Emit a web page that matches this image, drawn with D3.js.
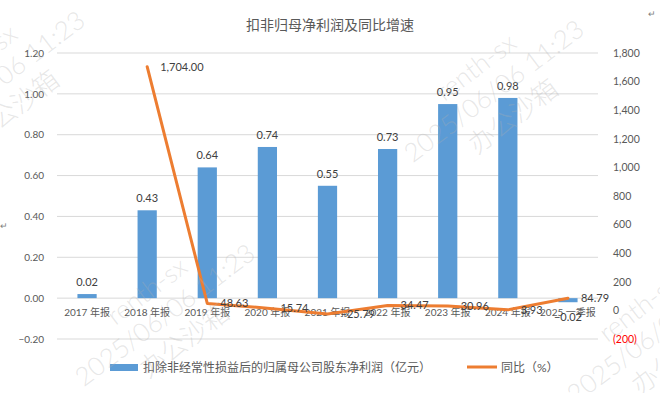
<!DOCTYPE html>
<html>
<head>
    <meta charset="UTF-8">
    <title>扣非归母净利润及同比增速</title>
    <style>
        body { margin: 0; background: #fff; }
        text { font-family: Lato, "Noto Sans CJK SC", sans-serif; }
    </style>
</head>
<body>
    <div id="app"></div>

    <script src="https://d3js.org/d3.v7.min.js"></script>
    <script>
        let categories = ['2017 年报', '2018 年报', '2019 年报', '2020 年报', '2021 年报',
            '2022 年报', '2023 年报', '2024 年报', '2025 一季报']
        let profit = [0.02, 0.43, 0.64, 0.74, 0.55, 0.73, 0.95, 0.98, -0.02]
        let growth = [null, 1704.00, 48.63, 15.74, -25.79, 34.47, 30.96, 3.93, 84.79]
        let leftTicks = [-0.2, 0, 0.2, 0.4, 0.6, 0.8, 1.0, 1.2]
        let rightTicks = [-200, 0, 200, 400, 600, 800, 1000, 1200, 1400, 1600, 1800]

        let W = 660
        let H = 393
        let plotL = 57, plotR = 598, plotT = 53, plotB = 339
        let blue = '#5b9bd5'
        let orange = '#ed7d31'

        let svg = d3.select('#app').append('svg')
        .attr('width', W)
        .attr('height', H)

        let x = d3.scaleBand()
        .domain(categories)
        .range([plotL, plotR])
        .paddingInner(0.68)
        .paddingOuter(0.34)

        let yL = d3.scaleLinear().domain([-0.2, 1.2]).range([plotB, plotT])
        let yR = d3.scaleLinear().domain([-200, 1800]).range([plotB, plotT])
        let cx = c => x(c) + x.bandwidth() / 2

        // title
        svg.append('text')
        .attr('x', 330).attr('y', 30)
        .attr('text-anchor', 'middle')
        .attr('font-size', 14)
        .attr('fill', '#595959')
        .text('扣非归母净利润及同比增速')

        // gridlines
        svg.append('g').selectAll('line')
        .data(leftTicks).enter()
        .append('line')
        .attr('x1', plotL).attr('x2', plotR)
        .attr('y1', d => yL(d)).attr('y2', d => yL(d))
        .attr('stroke', '#d9d9d9')
        .attr('stroke-width', 1)

        // left axis
        let axL = svg.append('g')
        .attr('transform', 'translate(' + (plotL - 10) + ',0)')
        .call(d3.axisLeft(yL).tickValues(leftTicks).tickFormat(d3.format('.2f')).tickSize(0))
        axL.select('.domain').remove()
        axL.selectAll('text').attr('font-size', 10).attr('fill', '#595959')
        .attr('font-family', 'Lato, "Noto Sans CJK SC", sans-serif')

        // right axis
        let axR = svg.append('g')
        .attr('transform', 'translate(' + (plotR + 12) + ',0)')
        .call(d3.axisRight(yR).tickValues(rightTicks)
            .tickFormat(d => d < 0 ? '(' + d3.format(',')(-d) + ')' : d3.format(',')(d))
            .tickSize(0))
        axR.select('.domain').remove()
        axR.selectAll('text').attr('font-size', 10.5)
        .attr('fill', d => d < 0 ? '#ff0000' : '#595959')
        .attr('font-family', 'Lato, "Noto Sans CJK SC", sans-serif')

        // bars
        svg.append('g').selectAll('rect')
        .data(profit).enter()
        .append('rect')
        .attr('x', (d, i) => x(categories[i]))
        .attr('width', x.bandwidth())
        .attr('y', d => Math.min(yL(d), yL(0)))
        .attr('height', d => Math.abs(yL(d) - yL(0)))
        .attr('fill', blue)

        // x labels
        svg.append('g').selectAll('text')
        .data(categories).enter()
        .append('text')
        .attr('x', d => cx(d))
        .attr('y', 316)
        .attr('text-anchor', 'middle')
        .attr('font-size', 10)
        .attr('fill', '#595959')
        .text(d => d)

        // bar labels
        svg.append('g').selectAll('text')
        .data(profit).enter()
        .append('text')
        .attr('x', (d, i) => cx(categories[i]))
        .attr('y', d => d >= 0 ? yL(d) - 8 : yL(d) + 19)
        .attr('text-anchor', 'middle')
        .attr('font-size', 11)
        .attr('fill', '#404040')
        .text(d => d3.format('.2f')(d))

        // line
        let pts = growth.map((v, i) => ({ c: categories[i], v: v })).filter(d => d.v !== null)
        let line = d3.line()
        .x(d => cx(d.c))
        .y(d => yR(d.v))

        svg.append('path')
        .datum(pts)
        .attr('d', line)
        .attr('fill', 'none')
        .attr('stroke', orange)
        .attr('stroke-width', 3)
        .attr('stroke-linejoin', 'round')
        .attr('stroke-linecap', 'round')

        svg.append('g').selectAll('text')
        .data(pts).enter()
        .append('text')
        .attr('x', d => cx(d.c) + 13)
        .attr('y', d => yR(d.v) + 4)
        .attr('font-size', 11)
        .attr('fill', '#404040')
        .text(d => d3.format(',.2f')(d.v))

        // legend
        let lg = svg.append('g')
        lg.append('rect')
        .attr('x', 110).attr('y', 364)
        .attr('width', 28).attr('height', 7)
        .attr('fill', blue)
        lg.append('text')
        .attr('x', 143).attr('y', 372)
        .attr('font-size', 12)
        .attr('fill', '#595959')
        .text('扣除非经常性损益后的归属母公司股东净利润（亿元）')
        lg.append('line')
        .attr('x1', 467).attr('x2', 497)
        .attr('y1', 367).attr('y2', 367)
        .attr('stroke', orange)
        .attr('stroke-width', 3)
        lg.append('text')
        .attr('x', 501).attr('y', 372)
        .attr('font-size', 12)
        .attr('fill', '#595959')
        .text('同比（%）')

        // small return marks
        svg.append('text').attr('x', 0).attr('y', 229)
        .attr('font-size', 9).attr('fill', '#808080').text('↵')
        svg.append('text').attr('x', 648).attr('y', 17)
        .attr('font-size', 9).attr('fill', '#808080').text('↵')

        // watermark
        let marks = [[-5, 82], [494, 91], [165, 315], [657, 332]]
        let wm = svg.append('g').attr('pointer-events', 'none')
        marks.forEach(m => {
        let g = wm.append('g')
        .attr('transform', 'translate(' + m[0] + ',' + m[1] + ') rotate(-37)')
        let lines = [['renth-sx', -30], ['2025/06/06 11:23', 0], ['办公沙箱', 32]]
        lines.forEach(l => {
        g.append('text')
        .attr('x', 0).attr('y', l[1] + 9)
        .attr('text-anchor', 'middle')
        .attr('font-size', 26)
        .attr('font-weight', 300)
        .attr('fill', '#b0b0b0')
        .attr('fill-opacity', 0.3)
        .text(l[0])
        })
        })
    </script>
</body>
</html>
